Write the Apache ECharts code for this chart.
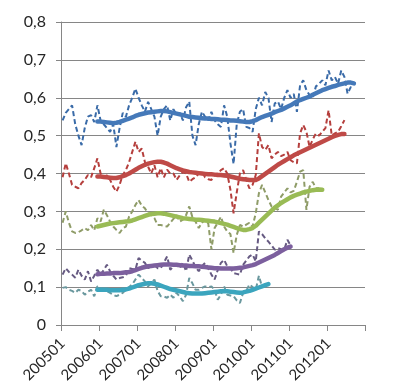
<!DOCTYPE html>
<html>
<head>
<meta charset="utf-8">
<script src="https://cdn.jsdelivr.net/npm/echarts@6/dist/echarts.min.js"></script>
<style>
html,body{margin:0;padding:0;background:#fff;}
#chart{width:401px;height:391px;}
</style>
</head>
<body>
<div id="chart"></div>
<script>
// Categories: monthly periods 200501 .. 201212
const years = [2005,2006,2007,2008,2009,2010,2011,2012];
const months = ['01','02','03','04','05','06','07','08','09','10','11','12'];
const categories = [];
years.forEach(y => months.forEach(m => categories.push(String(y) + m)));

// y-axis tick values
const yTicks = [0,0.1,0.2,0.3,0.4,0.5,0.6,0.7,0.8];

// Raw monthly series (dashed), starting at 200501
const blueRaw = [0.54,0.56,0.57,0.58,0.53,0.50,0.475,0.52,0.55,0.554,0.536,0.58,
 0.54,0.53,0.52,0.51,0.53,0.47,0.52,0.56,0.55,0.58,0.60,0.624,
 0.60,0.58,0.563,0.589,0.57,0.55,0.50,0.55,0.57,0.58,0.54,0.57,
 0.555,0.56,0.54,0.575,0.59,0.50,0.475,0.53,0.563,0.55,0.54,0.563,
 0.54,0.53,0.523,0.58,0.55,0.48,0.425,0.53,0.563,0.57,0.523,0.52,
 0.51,0.57,0.60,0.58,0.615,0.60,0.536,0.585,0.59,0.57,0.60,0.62,
 0.60,0.61,0.563,0.633,0.646,0.62,0.607,0.60,0.63,0.637,0.646,0.633,
 0.672,0.646,0.655,0.637,0.672,0.655,0.611,0.628,0.63];
const redRaw = [0.39,0.427,0.40,0.37,0.365,0.361,0.375,0.383,0.396,0.39,0.414,0.44,
 0.40,0.39,0.395,0.383,0.365,0.352,0.37,0.396,0.409,0.43,0.457,0.484,
 0.457,0.466,0.43,0.418,0.40,0.422,0.39,0.414,0.39,0.41,0.40,0.40,
 0.383,0.395,0.404,0.40,0.378,0.385,0.39,0.40,0.404,0.39,0.385,0.383,
 0.396,0.40,0.409,0.414,0.40,0.357,0.295,0.35,0.40,0.409,0.383,0.361,
 0.37,0.396,0.506,0.47,0.462,0.475,0.44,0.45,0.457,0.446,0.45,0.457,
 0.435,0.43,0.427,0.506,0.528,0.51,0.47,0.49,0.506,0.50,0.51,0.52,
 0.567,0.50,0.506,0.51,0.525,0.541];
const greenRaw = [0.27,0.30,0.27,0.247,0.243,0.245,0.25,0.256,0.25,0.264,0.25,0.282,
 0.273,0.304,0.29,0.273,0.26,0.251,0.243,0.255,0.26,0.286,0.30,0.317,
 0.33,0.315,0.308,0.295,0.29,0.282,0.264,0.264,0.262,0.26,0.27,0.28,
 0.29,0.273,0.278,0.29,0.313,0.285,0.273,0.256,0.27,0.278,0.268,0.20,
 0.256,0.27,0.286,0.26,0.247,0.24,0.19,0.238,0.264,0.26,0.265,0.27,
 0.26,0.295,0.348,0.37,0.35,0.33,0.313,0.31,0.304,0.339,0.35,0.361,
 0.35,0.354,0.378,0.405,0.409,0.304,0.365,0.378,0.361,0.361];
const purpleRaw = [0.133,0.15,0.14,0.133,0.125,0.146,0.13,0.12,0.142,0.115,0.13,0.146,
 0.133,0.145,0.159,0.142,0.13,0.12,0.124,0.126,0.13,0.15,0.148,0.146,
 0.177,0.17,0.164,0.15,0.155,0.159,0.15,0.15,0.165,0.181,0.146,0.155,
 0.159,0.15,0.164,0.142,0.186,0.17,0.153,0.142,0.155,0.164,0.15,0.133,
 0.12,0.145,0.164,0.172,0.155,0.15,0.137,0.135,0.133,0.159,0.17,0.181,
 0.186,0.168,0.247,0.24,0.229,0.22,0.21,0.199,0.203,0.20,0.199,0.225,
 0.21];
const cyanRaw = [0.098,0.10,0.093,0.09,0.085,0.093,0.09,0.08,0.088,0.093,0.076,0.102,
 0.098,0.093,0.09,0.085,0.08,0.076,0.08,0.085,0.093,0.10,0.107,0.12,
 0.133,0.124,0.115,0.102,0.11,0.12,0.09,0.076,0.075,0.072,0.08,0.072,
 0.085,0.075,0.063,0.08,0.124,0.11,0.093,0.093,0.098,0.102,0.10,0.102,
 0.093,0.067,0.08,0.102,0.08,0.078,0.076,0.065,0.058,0.085,0.09,0.107,
 0.10,0.093,0.13,0.10,0.105,0.111];

// Smoothed trend series (thick), starting at 200512 (index 11)
const trendStart = 11;
const blueTrend = [0.537,0.537,0.536,0.535,0.534,0.533,0.534,0.536,0.539,0.542,
 0.545,0.548,0.552,0.555,0.557,0.559,0.561,0.562,0.563,0.564,
 0.565,0.565,0.564,0.562,0.560,0.558,0.556,0.554,0.552,0.550,
 0.549,0.548,0.547,0.546,0.545,0.545,0.544,0.544,0.543,0.542,
 0.542,0.541,0.540,0.540,0.539,0.538,0.537,0.536,0.536,0.538,
 0.541,0.545,0.549,0.552,0.555,0.558,0.562,0.565,0.568,0.572,
 0.576,0.580,0.585,0.590,0.594,0.597,0.600,0.603,0.608,0.612,
 0.616,0.620,0.623,0.626,0.629,0.631,0.634,0.636,0.638,0.640,
 0.640,0.638];
const redTrend = [0.392,0.392,0.391,0.390,0.389,0.388,0.388,0.390,0.393,0.396,
 0.400,0.405,0.410,0.415,0.419,0.423,0.426,0.428,0.430,0.431,
 0.431,0.429,0.426,0.422,0.418,0.414,0.411,0.408,0.406,0.404,
 0.403,0.402,0.401,0.400,0.399,0.398,0.398,0.397,0.396,0.396,
 0.395,0.394,0.392,0.390,0.388,0.386,0.385,0.384,0.383,0.383,
 0.383,0.387,0.393,0.399,0.405,0.411,0.417,0.423,0.428,0.433,
 0.438,0.443,0.448,0.452,0.456,0.460,0.464,0.468,0.472,0.476,
 0.480,0.484,0.488,0.492,0.496,0.499,0.502,0.504,0.504];
const greenTrend = [0.260,0.262,0.264,0.266,0.268,0.269,0.270,0.271,0.272,0.273,
 0.274,0.276,0.279,0.282,0.285,0.288,0.291,0.293,0.294,0.295,
 0.295,0.294,0.292,0.290,0.288,0.286,0.284,0.282,0.281,0.280,
 0.279,0.278,0.278,0.277,0.276,0.275,0.274,0.273,0.271,0.269,
 0.267,0.265,0.262,0.259,0.256,0.253,0.251,0.251,0.253,0.256,
 0.262,0.270,0.278,0.286,0.294,0.302,0.310,0.316,0.322,0.327,
 0.332,0.337,0.341,0.344,0.347,0.350,0.352,0.354,0.356,0.357,
 0.358,0.357];
const purpleTrend = [0.134,0.135,0.135,0.136,0.136,0.137,0.137,0.137,0.138,0.139,
 0.140,0.142,0.145,0.148,0.151,0.153,0.155,0.156,0.157,0.158,
 0.159,0.160,0.160,0.160,0.159,0.159,0.158,0.157,0.157,0.156,
 0.156,0.155,0.155,0.154,0.153,0.152,0.151,0.150,0.150,0.149,
 0.149,0.149,0.149,0.149,0.150,0.151,0.152,0.154,0.156,0.158,
 0.161,0.165,0.169,0.173,0.177,0.181,0.185,0.190,0.195,0.200,
 0.204,0.207];
const cyanTrend = [0.093,0.093,0.093,0.093,0.092,0.092,0.092,0.092,0.093,0.094,
 0.096,0.099,0.102,0.105,0.107,0.109,0.110,0.110,0.109,0.107,
 0.104,0.101,0.098,0.095,0.093,0.091,0.089,0.087,0.085,0.084,
 0.083,0.083,0.083,0.083,0.084,0.085,0.086,0.087,0.088,0.089,
 0.089,0.089,0.088,0.087,0.086,0.085,0.086,0.088,0.090,0.093,
 0.096,0.099,0.102,0.105,0.108];

const FONT = 'Lato';
function padTrend(arr){ return new Array(trendStart).fill(null).concat(arr); }
function rawSeries(data, color){
  return {type:'line', data:data, symbol:'none', showSymbol:false, z:2,
    lineStyle:{color:color, width:2, type:[5,3]}, itemStyle:{color:color}};
}
function trendSeries(data, color){
  return {type:'line', data:padTrend(data), symbol:'none', showSymbol:false, z:3,
    lineStyle:{color:color, width:4.5, cap:'round', join:'round'}, itemStyle:{color:color}};
}

const chart = echarts.init(document.getElementById('chart'), null, {renderer:'canvas'});
chart.setOption({
  animation:false,
  backgroundColor:'#ffffff',
  grid:{left:61, top:22, width:304, height:303, containLabel:false},
  xAxis:{
    type:'category', data:categories, boundaryGap:true,
    axisLine:{show:true, lineStyle:{color:'#868686', width:1}},
    axisTick:{show:true, interval:11, length:6, lineStyle:{color:'#868686'}},
    axisLabel:{interval:11, rotate:45, fontSize:15, color:'#262626', fontFamily:FONT,
      margin:16, padding:[8,0,0,0]},
    splitLine:{show:false}
  },
  yAxis:{
    type:'value', min:yTicks[0], max:yTicks[yTicks.length-1], interval:0.1,
    axisLine:{show:true, lineStyle:{color:'#868686', width:1}},
    axisTick:{show:true, length:5, lineStyle:{color:'#868686'}},
    axisLabel:{fontSize:16, color:'#262626', fontFamily:FONT, margin:15,
      formatter:v => v === 0 ? '0' : v.toFixed(1).replace('.', ',')},
    splitLine:{show:true, lineStyle:{color:'#868686', width:1}}
  },
  series:[
    rawSeries(blueRaw, '#3A6BA8'),
    rawSeries(redRaw, '#B53F3D'),
    rawSeries(greenRaw, '#8F9C68'),
    rawSeries(purpleRaw, '#665A82'),
    rawSeries(cyanRaw, '#6A989E'),
    trendSeries(blueTrend, '#4579B9'),
    trendSeries(redTrend, '#BF4A47'),
    trendSeries(greenTrend, '#99BB55'),
    trendSeries(purpleTrend, '#7C5F9E'),
    trendSeries(cyanTrend, '#3BA5BE')
  ]
});
</script>
</body>
</html>
